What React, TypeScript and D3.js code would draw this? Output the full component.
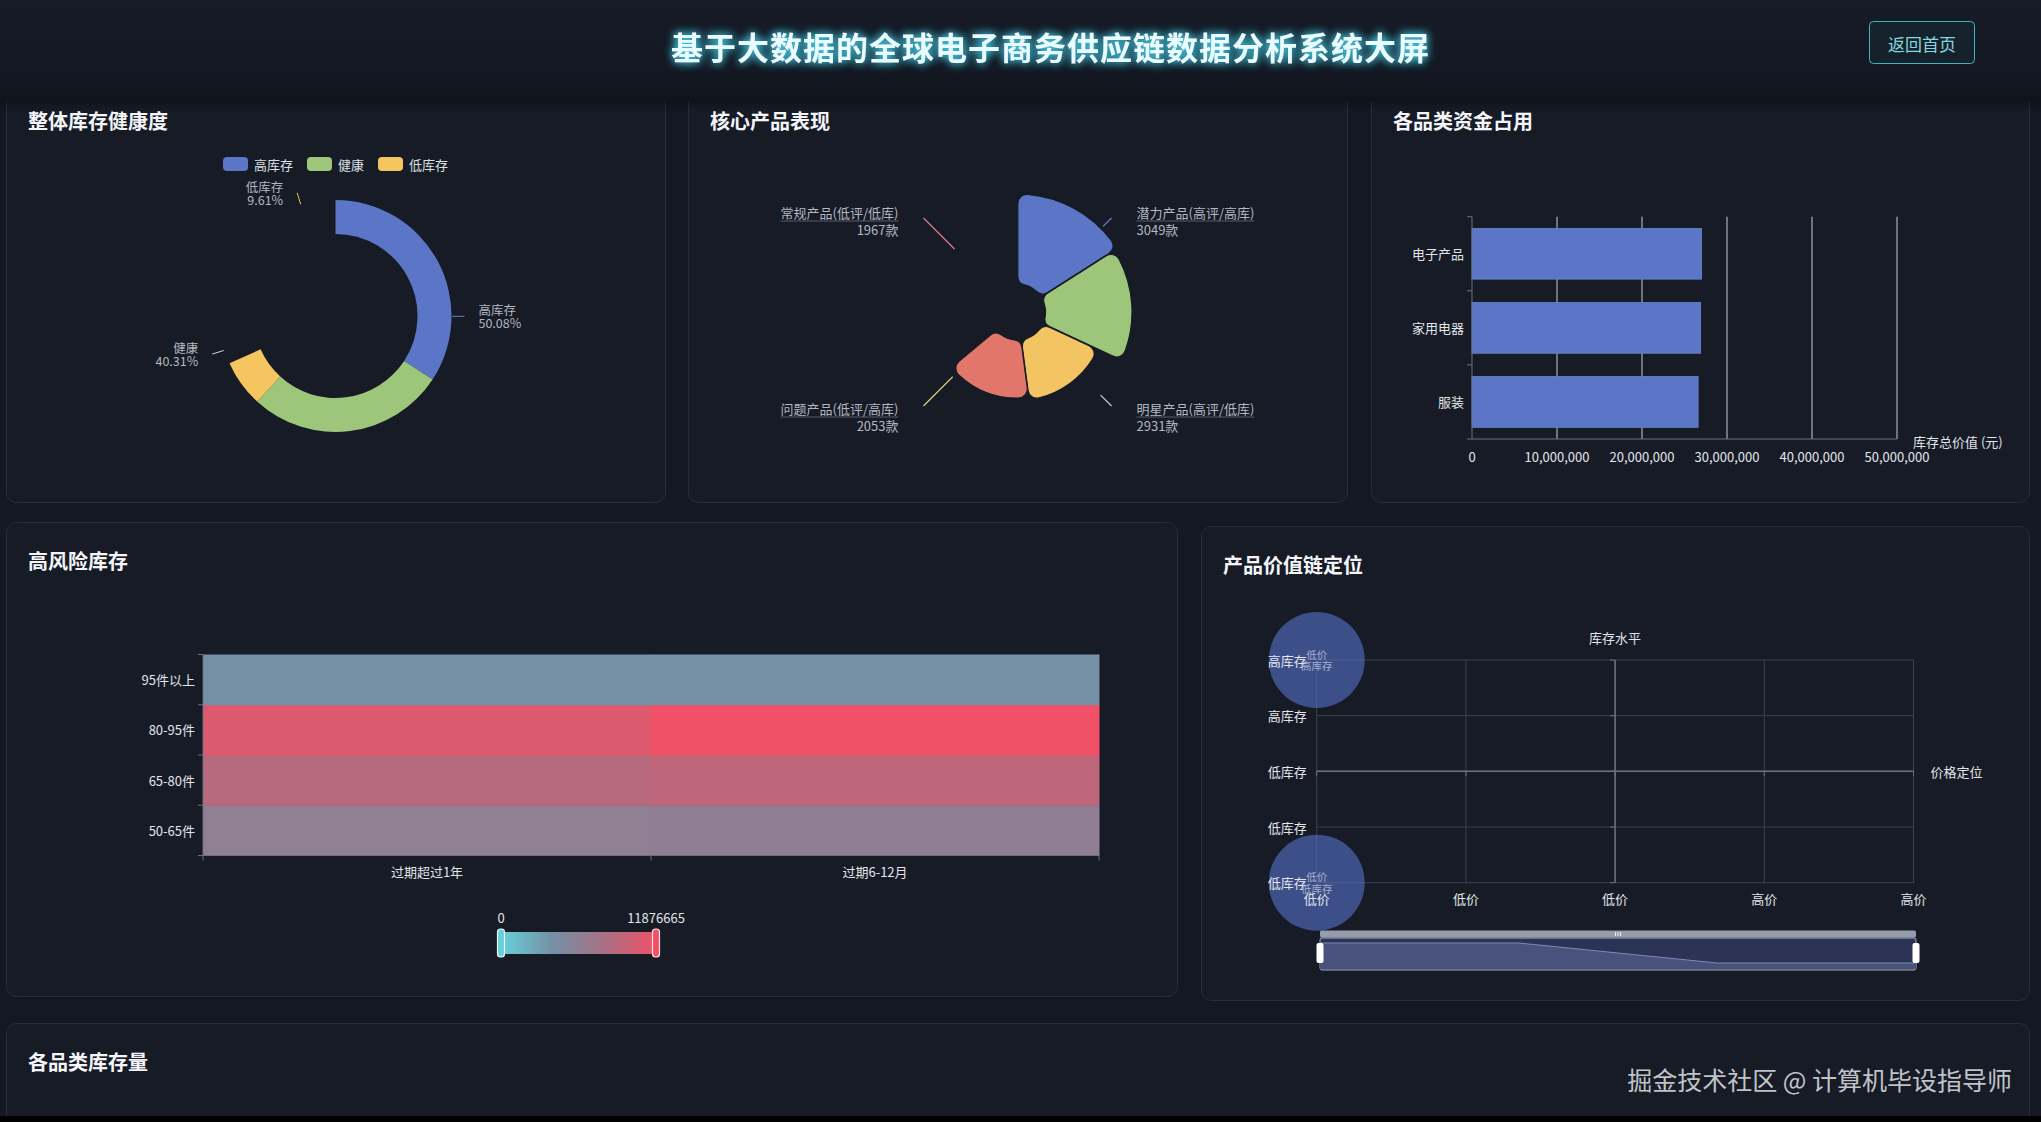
import React from 'react';
import * as d3 from 'd3';

const W = 2041;
const H = 1122;
const FONT = "'Noto Sans CJK SC', 'Noto Sans', sans-serif";

// ---------------- data ----------------
const pageTitle = '基于大数据的全球电子商务供应链数据分析系统大屏';
const backLabel = '返回首页';
const panelTitles = ['整体库存健康度', '核心产品表现', '各品类资金占用', '高风险库存', '产品价值链定位', '各品类库存量'];
const watermark = '掘金技术社区 @ 计算机毕设指导师';

const healthNames = ['高库存', '健康', '低库存'];
const healthPercents = [50.08, 40.31, 9.61];

const productNames = ['潜力产品(高评/高库)', '明星产品(高评/低库)', '问题产品(低评/高库)', '常规产品(低评/低库)'];
const productCounts = [3049, 2931, 2053, 1967];

const capitalCategories = ['服装', '家用电器', '电子产品'];
const capitalValues = [26600000, 26900000, 27000000];
const capitalTicks = [0, 10000000, 20000000, 30000000, 40000000, 50000000];
const capitalAxisName = '库存总价值 (元)';

const riskExpiry = ['过期超过1年', '过期6-12月'];
const riskQuantity = ['50-65件', '65-80件', '80-95件', '95件以上'];
const riskCells: [number, number, number][] = [
  [0, 0, 6000000], [1, 0, 6050000],
  [0, 1, 8700000], [1, 1, 9100000],
  [0, 2, 10800000], [1, 2, 11876665],
  [0, 3, 3950000], [1, 3, 4000000],
];
const riskMin = 0;
const riskMax = 11876665;

const priceLevels = ['低价', '低价', '低价', '高价', '高价'];
const stockLevels = ['低库存', '低库存', '低库存', '高库存', '高库存'];
const positionPriceIdx = [0, 0];
const positionStockIdx = [4, 0];
const positionCounts = [1, 1];
const positionLabels = [['低价', '高库存'], ['低价', '低库存']];
const positionXName = '价格定位';
const positionYName = '库存水平';
const sliderShadow = [1, 1, 0, 0];

// ---------------- styles ----------------
const C = {
  bg: '#131822',
  panel: '#161b26',
  panelStroke: '#272e3b',
  title: '#f3f5f8',
  axisText: '#e2e5ea',
  labelText: '#b3b8c1',
  axisLine: '#6b7180',
};
const healthColors = ['#5b76c6', '#9ec67b', '#f5c65f'];
const healthLineColors = ['#6a80c8', '#d3d8cc', '#eec65e'];
const productColors = ['#5b76c6', '#9dc67b', '#f3c562', '#e2766a'];
const productLineColors = ['#6a80c8', '#c9ccd2', '#d6d07a', '#e07a90'];
const riskStops = ['#67d0da', '#7590a5', '#a97084', '#f05166'];

// snapshot of the opening animation (sweep of the rings, degrees)
const DONUT_SWEEP = 246;
const ROSE_SWEEP = 230;

let measureCtx: CanvasRenderingContext2D | null = null;
function textWidth(s: string, size: number, weight: string = 'normal'): number {
  try {
    if (!measureCtx) measureCtx = document.createElement('canvas').getContext('2d');
    if (measureCtx) {
      measureCtx.font = `${weight} ${size}px ${FONT}`;
      return measureCtx.measureText(s).width;
    }
  } catch (e) {}
  return s.length * size;
}

type Box = { x: number; y: number; w: number; h: number };
const P1: Box = { x: 6, y: 82, w: 659, h: 420 };
const P2: Box = { x: 688, y: 82, w: 659, h: 420 };
const P3: Box = { x: 1371, y: 82, w: 658, h: 420 };
const P4: Box = { x: 6, y: 522, w: 1171, h: 474 };
const P5: Box = { x: 1201, y: 526, w: 828, h: 474 };
const P6: Box = { x: 6, y: 1023, w: 2023, h: 140 };

function Panel({ p, title }: { p: Box; title: string }) {
  return (
    <g>
      <rect x={p.x + 0.5} y={p.y + 0.5} width={p.w} height={p.h} rx={10} fill={C.panel} stroke={C.panelStroke} />
      <text x={p.x + 22} y={p.y + 38} fontSize={20} fontWeight={700} fill={C.title} dominantBaseline="central">
        {title}
      </text>
    </g>
  );
}

const rad = (deg: number) => (deg * Math.PI) / 180;
const polar = (cx: number, cy: number, r: number, a: number): [number, number] => [cx + r * Math.sin(a), cy - r * Math.cos(a)];

function Donut() {
  const cx = P1.x + P1.w / 2;
  const cy = P1.y + 234;
  const r0 = 82, r1 = 116;
  const drawn = d3.pie<number>().sort(null).startAngle(0).endAngle(rad(DONUT_SWEEP))(healthPercents);
  const finalPie = d3.pie<number>().sort(null)(healthPercents);
  const arc = d3.arc<d3.PieArcDatum<number>>().innerRadius(r0).outerRadius(r1);

  // legend
  const fs = 13, iw = 25, ih = 14, tg = 6, gap = 14;
  const widths = healthNames.map((n) => iw + tg + textWidth(n, fs));
  const total = d3.sum(widths) + gap * (widths.length - 1);
  let lx = cx - total / 2;
  const legendY = P1.y + 82;
  const legend = healthNames.map((n, i) => {
    const x = lx;
    lx += widths[i] + gap;
    return (
      <g key={n}>
        <rect x={x} y={legendY - ih / 2} width={iw} height={ih} rx={4} fill={healthColors[i]} />
        <text x={x + iw + tg} y={legendY} fontSize={fs} fill="#dde1e7" dominantBaseline="central">{n}</text>
      </g>
    );
  });

  return (
    <g>
      {legend}
      <g transform={`translate(${cx},${cy})`}>
        {drawn.map((d, i) => (
          <path key={i} d={arc(d) || ''} fill={healthColors[i]} />
        ))}
      </g>
      {finalPie.map((d, i) => {
        const a = (d.startAngle + d.endAngle) / 2;
        const [x1, y1] = polar(cx, cy, r1 + 1, a);
        const [x2, y2] = polar(cx, cy, r1 + 13, a);
        const right = Math.sin(a) > 0;
        const tx = right ? x2 + 14 : x2 - 14;
        return (
          <g key={'l' + i}>
            <line x1={x1} y1={y1} x2={x2} y2={y2} stroke={healthLineColors[i]} strokeWidth={1} />
            <text x={tx} y={y2 - 6.5} fontSize={12.5} fill={C.labelText} textAnchor={right ? 'start' : 'end'} dominantBaseline="central">
              {healthNames[i]}
            </text>
            <text x={tx} y={y2 + 6.5} fontSize={12.5} fill={C.labelText} textAnchor={right ? 'start' : 'end'} dominantBaseline="central">
              {healthPercents[i].toFixed(2) + '%'}
            </text>
          </g>
        );
      })}
    </g>
  );
}

function Rose() {
  const cx = P2.x + P2.w / 2;
  const cy = P2.y + 230;
  const r0 = 28, rMax = 118;
  const rScale = d3.scaleLinear().domain([0, d3.max(productCounts) as number]).range([r0, rMax]);
  const drawn = d3.pie<number>().sort(null).value(() => 1).startAngle(0).endAngle(rad(ROSE_SWEEP)).padAngle(0.005)(productCounts);
  const finalPie = d3.pie<number>().sort(null).value(() => 1)(productCounts);
  const arc = d3.arc<d3.PieArcDatum<number>>().innerRadius(r0).outerRadius((d) => rScale(d.data)).cornerRadius(9);
  const fs = 13;
  return (
    <g>
      <g transform={`translate(${cx},${cy})`}>
        {drawn.map((d, i) => (
          <path key={i} d={arc(d) || ''} fill={productColors[i]} stroke={C.panel} strokeWidth={1.2} />
        ))}
      </g>
      {finalPie.map((d, i) => {
        const a = (d.startAngle + d.endAngle) / 2;
        const r = rScale(d.data);
        const [x1, y1] = polar(cx, cy, r + 3, a);
        const [x2, y2] = polar(cx, cy, 133, a);
        const right = Math.sin(a) > 0;
        const upper = Math.cos(a) > 0;
        const ly = upper ? cy - 92 : cy + 104;
        const lx = right ? cx + 119 : cx - 119;
        const tw = textWidth(productNames[i], fs);
        const ux1 = right ? lx : lx - tw;
        const ux2 = right ? lx + tw : lx;
        return (
          <g key={'l' + i}>
            <line x1={x1} y1={y1} x2={x2} y2={y2} stroke={productLineColors[i]} strokeWidth={1.2} />
            <line x1={ux1} y1={ly + 1} x2={ux2} y2={ly + 1} stroke="#555c6a" strokeWidth={1} />
            <text x={lx} y={ly - 8} fontSize={fs} fill={C.labelText} textAnchor={right ? 'start' : 'end'} dominantBaseline="central">
              {productNames[i]}
            </text>
            <text x={lx} y={ly + 9} fontSize={fs} fill={C.labelText} textAnchor={right ? 'start' : 'end'} dominantBaseline="central">
              {productCounts[i] + '款'}
            </text>
          </g>
        );
      })}
    </g>
  );
}

function CapitalBars() {
  const left = P3.x + 101, right = P3.x + 526, top = P3.y + 134.7, bottom = P3.y + 357;
  const x = d3.scaleLinear().domain([0, 50000000]).range([left, right]);
  const y = d3.scaleBand<string>().domain([...capitalCategories].reverse()).range([top, bottom]);
  const bh = y.bandwidth() * 0.685;
  const fmt = d3.format(',');
  const bounds = d3.range(capitalCategories.length + 1).map((i) => top + i * y.step());
  return (
    <g>
      {capitalTicks.slice(1).map((t) => (
        <line key={t} x1={x(t)} x2={x(t)} y1={top} y2={bottom} stroke="#c9ccd3" strokeWidth={1} />
      ))}
      {capitalCategories.map((c, i) => (
        <rect key={c} x={x(0)} y={(y(c) as number) + (y.bandwidth() - bh) / 2} width={x(capitalValues[i]) - x(0)} height={bh}
          fill="#5b76c6" stroke="#6a84cf" strokeWidth={0.8} />
      ))}
      <line x1={left} x2={left} y1={top} y2={bottom} stroke={C.axisLine} />
      <line x1={left} x2={right} y1={bottom} y2={bottom} stroke={C.axisLine} />
      {bounds.map((b, i) => (
        <line key={i} x1={left - 5} x2={left} y1={b} y2={b} stroke={C.axisLine} />
      ))}
      {capitalCategories.map((c) => (
        <text key={c} x={left - 8} y={(y(c) as number) + y.bandwidth() / 2} fontSize={13} fill={C.axisText} textAnchor="end" dominantBaseline="central">
          {c}
        </text>
      ))}
      {capitalTicks.map((t) => (
        <text key={t} x={x(t)} y={bottom + 17} fontSize={13} fill={C.axisText} textAnchor="middle" dominantBaseline="central">
          {fmt(t)}
        </text>
      ))}
      <text x={right + 16} y={bottom + 2} fontSize={13} fill={C.axisText} dominantBaseline="central">
        {capitalAxisName}
      </text>
    </g>
  );
}

function RiskHeatmap() {
  const left = P4.x + 197, right = P4.x + 1093, top = P4.y + 132.5, bottom = P4.y + 333.5;
  const x = d3.scaleBand<string>().domain(riskExpiry).range([left, right]);
  const y = d3.scaleBand<string>().domain(riskQuantity).range([bottom, top]);
  const color = d3
    .scaleLinear<string>()
    .domain(riskStops.map((_, i) => riskMin + ((riskMax - riskMin) * i) / (riskStops.length - 1)))
    .range(riskStops)
    .interpolate(d3.interpolateRgb);
  const vm = d3.scaleLinear().domain([riskMin, riskMax]).range([P4.x + 495, P4.x + 650]);
  const vmY = P4.y + 421;
  const vmH = 22;
  const xb = d3.range(riskExpiry.length + 1).map((i) => left + i * x.step());
  const yb = d3.range(riskQuantity.length + 1).map((i) => top + i * y.step());
  return (
    <g>
      <defs>
        <linearGradient id="vmGrad" x1="0" x2="1" y1="0" y2="0">
          {riskStops.map((s, i) => (
            <stop key={i} offset={i / (riskStops.length - 1)} stopColor={s} />
          ))}
        </linearGradient>
      </defs>
      {riskCells.map(([xi, yi, v], i) => (
        <rect key={i} x={x(riskExpiry[xi])} y={y(riskQuantity[yi])} width={x.bandwidth() + 0.5} height={y.bandwidth() + 0.5} fill={color(v)} />
      ))}
      <line x1={left} x2={left} y1={top} y2={bottom} stroke={C.axisLine} />
      <line x1={left} x2={right} y1={bottom} y2={bottom} stroke={C.axisLine} />
      {yb.map((b, i) => (
        <line key={'y' + i} x1={left - 5} x2={left} y1={b} y2={b} stroke={C.axisLine} />
      ))}
      {xb.map((b, i) => (
        <line key={'x' + i} x1={b} x2={b} y1={bottom} y2={bottom + 5} stroke={C.axisLine} />
      ))}
      {riskQuantity.map((q) => (
        <text key={q} x={left - 8} y={(y(q) as number) + y.bandwidth() / 2} fontSize={13} fill={C.axisText} textAnchor="end" dominantBaseline="central">
          {q}
        </text>
      ))}
      {riskExpiry.map((e) => (
        <text key={e} x={(x(e) as number) + x.bandwidth() / 2} y={bottom + 16} fontSize={13} fill={C.axisText} textAnchor="middle" dominantBaseline="central">
          {e}
        </text>
      ))}
      <rect x={vm(riskMin)} y={vmY - vmH / 2} width={vm(riskMax) - vm(riskMin)} height={vmH} fill="url(#vmGrad)" />
      <rect x={vm(riskMin) - 3.5} y={vmY - 14} width={7} height={28} rx={3} fill={riskStops[0]} stroke="#e8fbff" strokeWidth={1.2} />
      <rect x={vm(riskMax) - 3.5} y={vmY - 14} width={7} height={28} rx={3} fill={riskStops[riskStops.length - 1]} stroke="#ffe3e6" strokeWidth={1.2} />
      <text x={vm(riskMin)} y={vmY - 26} fontSize={13} fill={C.axisText} textAnchor="middle" dominantBaseline="central">{String(riskMin)}</text>
      <text x={vm(riskMax)} y={vmY - 26} fontSize={13} fill={C.axisText} textAnchor="middle" dominantBaseline="central">{String(riskMax)}</text>
    </g>
  );
}

function Positioning() {
  const left = P5.x + 115.7, right = P5.x + 712.5, top = P5.y + 134, bottom = P5.y + 356.7;
  const x = d3.scalePoint<number>().domain(d3.range(priceLevels.length)).range([left, right]);
  const y = d3.scalePoint<number>().domain(d3.range(stockLevels.length)).range([bottom, top]);
  const rScale = d3.scaleSqrt().domain([0, d3.max(positionCounts) as number]).range([0, 48]);
  const midX = (left + right) / 2;
  const midY = (top + bottom) / 2;
  const grid = '#3b4250';
  const sx = d3.scalePoint<number>().domain(d3.range(sliderShadow.length)).range([P5.x + 119, P5.x + 715]);
  const sTop = P5.y + 412, sBottom = P5.y + 444;
  const sy = d3.scaleLinear().domain([d3.min(sliderShadow) as number, d3.max(sliderShadow) as number]).range([sBottom - 7, sTop + 5]);
  const area = d3.area<number>().x((_, i) => sx(i) as number).y0(sBottom - 1).y1((d) => sy(d));
  const line = d3.line<number>().x((_, i) => sx(i) as number).y((d) => sy(d));
  const sL = sx(0) as number, sR = sx(sliderShadow.length - 1) as number;
  return (
    <g>
      {stockLevels.map((_, i) => (
        <line key={'h' + i} x1={left} x2={right} y1={y(i)} y2={y(i)} stroke={grid} />
      ))}
      {priceLevels.map((_, i) => (
        <line key={'v' + i} x1={x(i)} x2={x(i)} y1={top} y2={bottom} stroke={grid} />
      ))}
      <line x1={left} x2={right} y1={midY} y2={midY} stroke={C.axisLine} strokeWidth={1.5} />
      <line x1={midX} x2={midX} y1={top} y2={bottom} stroke={C.axisLine} strokeWidth={1.5} />
      {stockLevels.map((_, i) => (
        <line key={'t' + i} x1={midX - 5} x2={midX} y1={y(i)} y2={y(i)} stroke={C.axisLine} />
      ))}
      {priceLevels.map((_, i) => (
        <line key={'u' + i} x1={x(i)} x2={x(i)} y1={midY} y2={midY + 5} stroke={C.axisLine} />
      ))}
      {positionPriceIdx.map((pi, i) => (
        <circle key={'b' + i} cx={x(pi)} cy={y(positionStockIdx[i])} r={rScale(positionCounts[i])} fill="#5470c6" fillOpacity={0.62} />
      ))}
      {stockLevels.map((s, i) => (
        <text key={'yl' + i} x={left - 10} y={y(i)} fontSize={13} fill={C.axisText} textAnchor="end" dominantBaseline="central">{s}</text>
      ))}
      {priceLevels.map((p, i) => (
        <text key={'xl' + i} x={x(i)} y={bottom + 16} fontSize={13} fill={C.axisText} textAnchor="middle" dominantBaseline="central">{p}</text>
      ))}
      {positionPriceIdx.map((pi, i) => (
        <g key={'bl' + i}>
          <text x={x(pi)} y={(y(positionStockIdx[i]) as number) - 6} fontSize={10.5} fill="#a7afcc" textAnchor="middle" dominantBaseline="central">{positionLabels[i][0]}</text>
          <text x={x(pi)} y={(y(positionStockIdx[i]) as number) + 5.5} fontSize={10.5} fill="#a7afcc" textAnchor="middle" dominantBaseline="central">{positionLabels[i][1]}</text>
        </g>
      ))}
      <text x={midX} y={top - 23} fontSize={13} fill={C.axisText} textAnchor="middle" dominantBaseline="central">{positionYName}</text>
      <text x={right + 17} y={midY} fontSize={13} fill={C.axisText} dominantBaseline="central">{positionXName}</text>

      {/* dataZoom slider */}
      <rect x={sL} y={sTop - 7.5} width={sR - sL} height={7} rx={1.5} fill="#959cab" />
      {[-2.5, 0, 2.5].map((o) => (
        <line key={o} x1={(sL + sR) / 2 + o} x2={(sL + sR) / 2 + o} y1={sTop - 6} y2={sTop - 2} stroke="#eef0f4" strokeWidth={1} />
      ))}
      <rect x={sL} y={sTop} width={sR - sL} height={sBottom - sTop} rx={2} fill="#2b3455" stroke="#a9afbd" strokeWidth={1} />
      <path d={area(sliderShadow) || ''} fill="#48527c" />
      <path d={line(sliderShadow) || ''} fill="none" stroke="#7f8ab6" strokeWidth={1} />
      <rect x={sL - 3.5} y={sTop + 5} width={7} height={20} rx={2} fill="#ffffff" />
      <rect x={sR - 3.5} y={sTop + 5} width={7} height={20} rx={2} fill="#ffffff" />
    </g>
  );
}

export default function App() {
  React.useEffect(() => {
    document.body.style.margin = '0';
    document.body.style.background = C.bg;
  }, []);
  return (
    <svg width={W} height={H} viewBox={`0 0 ${W} ${H}`} style={{ position: 'absolute', left: 0, top: 0, display: 'block', fontFamily: FONT }}>
      <defs>
        <filter id="glow" x="-10%" y="-60%" width="120%" height="220%">
          <feGaussianBlur in="SourceAlpha" stdDeviation="5" result="blur" />
          <feFlood floodColor="#49e3ff" floodOpacity="0.75" />
          <feComposite in2="blur" operator="in" result="g" />
          <feMerge>
            <feMergeNode in="g" />
            <feMergeNode in="g" />
            <feMergeNode in="SourceGraphic" />
          </feMerge>
        </filter>
        <linearGradient id="hdr" x1="0" x2="0" y1="0" y2="1">
          <stop offset="0" stopColor="#161b26" />
          <stop offset="0.7" stopColor="#131822" />
          <stop offset="1" stopColor="#0f141c" />
        </linearGradient>
        <linearGradient id="hdrShadow" x1="0" x2="0" y1="0" y2="1">
          <stop offset="0" stopColor="#000" stopOpacity="0.28" />
          <stop offset="1" stopColor="#000" stopOpacity="0" />
        </linearGradient>
      </defs>
      <rect x={0} y={0} width={W} height={H} fill={C.bg} />

      <Panel p={P1} title={panelTitles[0]} />
      <Panel p={P2} title={panelTitles[1]} />
      <Panel p={P3} title={panelTitles[2]} />
      <Panel p={P4} title={panelTitles[3]} />
      <Panel p={P5} title={panelTitles[4]} />
      <Panel p={P6} title={panelTitles[5]} />

      <Donut />
      <Rose />
      <CapitalBars />
      <RiskHeatmap />
      <Positioning />

      {/* header */}
      <rect x={0} y={0} width={W} height={101} fill="url(#hdr)" />
      <rect x={0} y={101} width={W} height={10} fill="url(#hdrShadow)" />
      <text x={1050.5} y={46} fontSize={32} fontWeight={700} letterSpacing={1} fill="#e9fcff" textAnchor="middle" dominantBaseline="central" filter="url(#glow)">
        {pageTitle}
      </text>
      <rect x={1869.5} y={21.5} width={105} height={42} rx={4} fill="rgba(64,190,205,0.05)" stroke="#3fb3c0" strokeWidth={1} />
      <text x={1922} y={43} fontSize={17} fill="#86d6df" textAnchor="middle" dominantBaseline="central">{backLabel}</text>

      <text x={2012} y={1079} fontSize={25} fill="rgba(225,228,232,0.85)" textAnchor="end" dominantBaseline="central">{watermark}</text>
      <rect x={0} y={1116} width={W} height={H - 1116} fill="#000" />
    </svg>
  );
}
